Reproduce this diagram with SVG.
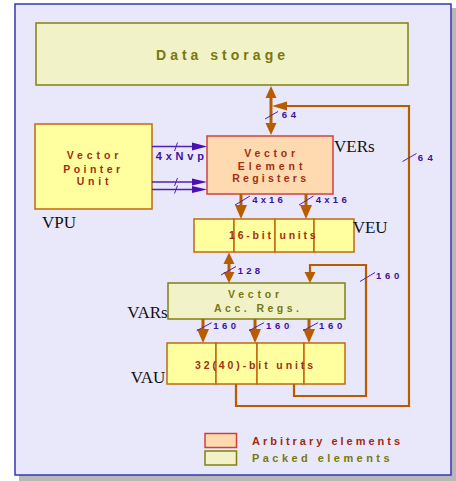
<svg xmlns="http://www.w3.org/2000/svg" width="456" height="481" viewBox="0 0 456 481">
<defs>
<style>
.bt{font-family:"Liberation Sans",Arial,sans-serif;font-weight:bold;}
.lbl{font-family:"Liberation Serif","Times New Roman",serif;font-size:17px;fill:#111;}
.red{fill:#a03010;font-size:10.5px;}
.olv{fill:#787810;font-size:10.5px;}
.pur{fill:#4010a0;font-size:9.5px;}
.yel{fill:#ffffa0;stroke:#c06a10;stroke-width:1.5;}
.pk{fill:#f2f2c8;stroke:#808010;stroke-width:1.5;}
.ar{fill:#ffd9b0;stroke:#d04040;stroke-width:1.5;}
.bus{stroke:#b85c00;stroke-width:3;fill:none;}
.fb{stroke:#b85c00;stroke-width:2.2;fill:none;}
.sl{stroke:#5020c0;stroke-width:1;}
.pl{stroke:#5020b0;stroke-width:1.6;fill:none;}
.bh{fill:#b85c00;}
.ph{fill:#4a10b0;}
</style>
</defs>
<rect x="19" y="8" width="437" height="473" fill="#b8b8b8"/>
<rect x="15" y="4" width="436" height="471" fill="#e8e8fa" stroke="#3535b5" stroke-width="1.5"/>

<g id="data-storage">
<rect x="36" y="23" width="372" height="62" class="pk"/>
<text class="bt olv" style="font-size:14px" x="156" y="60" textLength="129" lengthAdjust="spacing">Data storage</text>
</g>

<g id="vpu">
<rect x="35" y="124" width="117" height="85" class="yel"/>
<text class="bt red" x="66.7" y="159" textLength="51.6" lengthAdjust="spacing">Vector</text>
<text class="bt red" x="63.3" y="172.5" textLength="56.7" lengthAdjust="spacing">Pointer</text>
<text class="bt red" x="76.7" y="185" textLength="31.7" lengthAdjust="spacing">Unit</text>
<text class="lbl" x="42" y="228">VPU</text>
</g>

<g id="vers">
<rect x="207" y="136" width="126" height="58" class="ar"/>
<text class="bt red" x="244.3" y="156.5" textLength="50.7" lengthAdjust="spacing">Vector</text>
<text class="bt red" x="237.7" y="169.5" textLength="64.7" lengthAdjust="spacing">Element</text>
<text class="bt red" x="232.3" y="182" textLength="73.7" lengthAdjust="spacing">Registers</text>
<text class="lbl" x="334" y="151.5">VERs</text>
</g>

<g id="veu">
<rect x="194" y="219" width="40" height="33" class="yel" stroke-width="1"/>
<rect x="234" y="219" width="41" height="33" class="yel"/>
<rect x="275" y="219" width="39" height="33" class="yel" stroke-width="1"/>
<rect x="314" y="219" width="40" height="33" class="yel" stroke-width="2"/>
<text class="bt red" x="229" y="239" textLength="86.7" lengthAdjust="spacing">16-bit units</text>
<text class="lbl" x="352.7" y="232.7">VEU</text>
</g>

<g id="vars">
<rect x="168" y="283" width="177" height="36" class="pk"/>
<text class="bt olv" x="228" y="298" textLength="51" lengthAdjust="spacing">Vector</text>
<text class="bt olv" x="214" y="311.5" textLength="85" lengthAdjust="spacing">Acc. Regs.</text>
<text class="lbl" x="127.3" y="317.7">VARs</text>
</g>

<g id="vau">
<rect x="167" y="343" width="49" height="41" class="yel"/>
<rect x="216" y="343" width="41" height="41" class="yel"/>
<rect x="257" y="343" width="47" height="41" class="yel" stroke-width="1"/>
<rect x="304" y="343" width="41" height="41" class="yel" stroke-width="2"/>
<text class="bt red" x="195" y="369" textLength="118" lengthAdjust="spacing">32(40)-bit units</text>
<text class="lbl" x="130.7" y="382.7">VAU</text>
</g>

<g id="connectors">
<!-- Data storage <-> VERs -->
<line x1="271" y1="96" x2="271" y2="124" class="bus"/>
<polygon points="271,86 265.5,98 276.5,98" class="bh"/>
<polygon points="271,135 265.5,123 276.5,123" class="bh"/>
<line x1="265" y1="119" x2="278" y2="111.5" class="sl"/>
<text class="bt pur" x="281.7" y="117.5" textLength="14.3" lengthAdjust="spacing">64</text>

<!-- big feedback from VAU to bus -->
<polyline points="236,384 236,406 409,406 409,106 285,106" class="fb"/>
<polygon points="272,106 287,101.5 287,110.5" class="bh"/>
<line x1="402.5" y1="161.5" x2="416.5" y2="153.5" class="sl"/>
<text class="bt pur" x="417.7" y="160.7" textLength="15" lengthAdjust="spacing">64</text>

<!-- VPU -> VERs -->
<line x1="152" y1="146.5" x2="194" y2="146.5" class="pl" stroke-width="2.2" stroke="#6a40c0"/>
<polygon points="207,146.5 192,142.5 192,150.5" class="ph"/>
<line x1="152" y1="182" x2="194" y2="182" class="pl"/>
<polygon points="207,182 192,178.5 192,185.5" class="ph"/>
<line x1="152" y1="189.5" x2="194" y2="189.5" class="pl"/>
<polygon points="207,189.5 192,186 192,193" class="ph"/>
<line x1="174.5" y1="151" x2="177.5" y2="142.5" class="sl"/>
<line x1="174.5" y1="186" x2="177.5" y2="178" class="sl"/>
<line x1="174.5" y1="193.5" x2="177.5" y2="185.5" class="sl"/>
<text class="bt pur" style="font-size:11px" x="155.7" y="160" textLength="48.3" lengthAdjust="spacing">4xNvp</text>

<!-- VERs -> VEU -->
<line x1="241" y1="194" x2="241" y2="207" class="bus"/>
<polygon points="241,219 235,205 247,205" class="bh"/>
<line x1="306" y1="194" x2="306" y2="207" class="bus"/>
<polygon points="306,219 300,205 312,205" class="bh"/>
<line x1="235" y1="205" x2="250" y2="196" class="sl"/>
<line x1="299" y1="205" x2="313.5" y2="196" class="sl"/>
<text class="bt pur" x="252.3" y="202.7" textLength="30.4" lengthAdjust="spacing">4x16</text>
<text class="bt pur" x="315.7" y="202.7" textLength="31" lengthAdjust="spacing">4x16</text>

<!-- VEU <-> VARs -->
<line x1="229" y1="262" x2="229" y2="274" class="bus"/>
<polygon points="229,252.5 223.5,264 234.5,264" class="bh"/>
<polygon points="229,283 223.5,272 234.5,272" class="bh"/>
<line x1="221" y1="275" x2="236" y2="266.5" class="sl"/>
<text class="bt pur" x="237.7" y="273.7" textLength="22.3" lengthAdjust="spacing">128</text>

<!-- VAU feedback to VARs -->
<polyline points="294,384 294,396 366,396 366,265 310,265 310,273" class="fb"/>
<polygon points="310,283 304.5,272 315.5,272" class="bh"/>
<line x1="360" y1="281.5" x2="375" y2="272.5" class="sl"/>
<text class="bt pur" x="376" y="279.3" textLength="23.3" lengthAdjust="spacing">160</text>

<!-- VARs -> VAU -->
<line x1="203" y1="319" x2="203" y2="331" class="bus"/>
<polygon points="203,343 197,329 209,329" class="bh"/>
<line x1="255" y1="319" x2="255" y2="331" class="bus"/>
<polygon points="255,343 249,329 261,329" class="bh"/>
<line x1="309" y1="319" x2="309" y2="331" class="bus"/>
<polygon points="309,343 303,329 315,329" class="bh"/>
<line x1="196.7" y1="330.7" x2="211.7" y2="322.7" class="sl"/>
<line x1="249" y1="330.7" x2="264" y2="322.7" class="sl"/>
<line x1="303" y1="330.7" x2="318" y2="322.7" class="sl"/>
<text class="bt pur" x="213.3" y="328.7" textLength="22.7" lengthAdjust="spacing">160</text>
<text class="bt pur" x="266" y="328.7" textLength="23.3" lengthAdjust="spacing">160</text>
<text class="bt pur" x="319" y="328.7" textLength="23.3" lengthAdjust="spacing">160</text>
</g>

<g id="legend">
<rect x="205" y="433.5" width="31.5" height="14" class="ar"/>
<rect x="205" y="451" width="31.5" height="14" class="pk"/>
<text class="bt" style="font-size:11px;fill:#a02a10" x="252" y="445" textLength="148" lengthAdjust="spacing">Arbitrary elements</text>
<text class="bt" style="font-size:11px;fill:#787810" x="252" y="462" textLength="137.6" lengthAdjust="spacing">Packed elements</text>
</g>
</svg>
